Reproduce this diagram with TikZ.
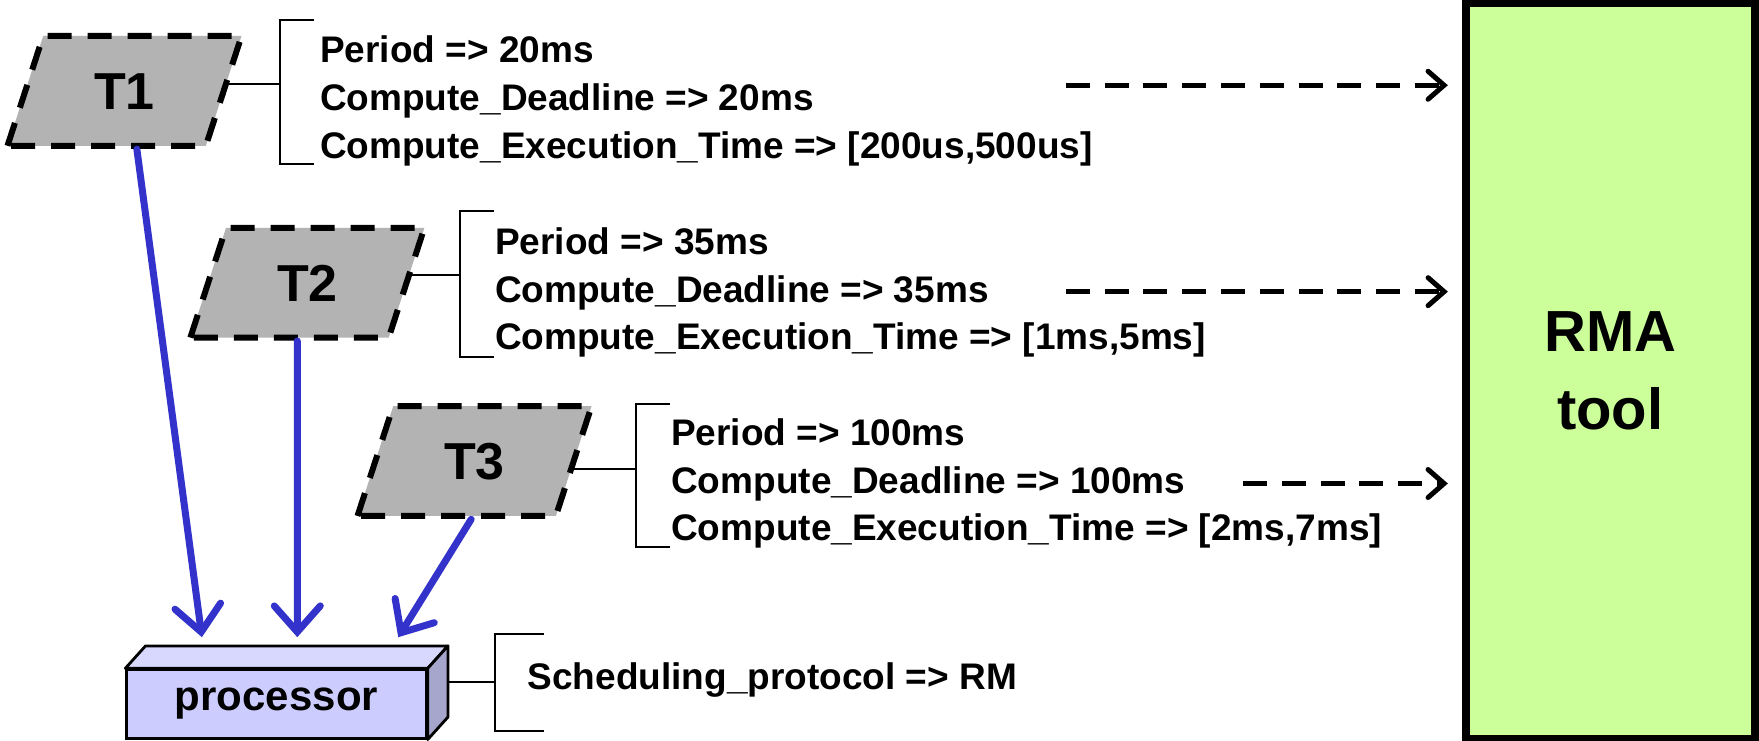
\documentclass[tikz,border=0pt]{standalone}
\usepackage{fontspec}
\setmainfont{Liberation Sans}
\usetikzlibrary{arrows.meta,positioning,shapes.geometric}
\definecolor{taskgray}{HTML}{B3B3B3}
\definecolor{linkblue}{HTML}{3333CC}
\definecolor{rmagreen}{HTML}{CCFF99}
\definecolor{procfront}{HTML}{CCCCFF}
\definecolor{proctop}{HTML}{D8D8FF}
\definecolor{procside}{HTML}{A6A6CC}

\begin{document}
\begin{tikzpicture}[x=0.5609pt, y=-0.5609pt,
  task/.style={trapezium, trapezium left angle=72, trapezium right angle=108,
    draw, dash pattern=on 12pt off 8pt, line width=3pt, fill=taskgray,
    text height=18.7pt, text depth=0pt, inner xsep=25.5pt, inner ysep=18.1pt, outer sep=0pt,
    font=\fontsize{26}{28}\selectfont\bfseries},
  attr/.style={anchor=west, align=left, inner sep=0pt, font=\fontsize{18.5}{23.8}\selectfont\bfseries},
  bracket/.style={line width=1pt},
  link/.style={linkblue, line width=3.5pt, line cap=round, -{Straight Barb[length=13pt, width=23pt, line cap=round]}},
  feed/.style={line width=2.5pt, dash pattern=on 12pt off 7.4pt, -{Straight Barb[length=8pt, width=14pt, line cap=round]}, shorten >=7pt}]
\useasboundingbox (0,0) rectangle (1568,660);

% RMA tool
\node[draw, line width=4pt, fill=rmagreen, minimum width=144.5pt, minimum height=368pt, align=center,
  font=\fontsize{29}{39}\selectfont\bfseries] (rma) at (1435.5,331) {RMA\\tool};

% tasks
\node[task] (t1) at (111,81) {T1};
\node[task] (t2) at (274,252) {T2};
\node[task] (t3) at (423,411) {T3};

% processor
\node[draw, line width=1.4pt, fill=procfront, minimum width=149.8pt, minimum height=34.2pt, inner sep=0pt,
  font=\fontsize{21}{23}\selectfont\bfseries] (proc) at (246.5,627.5) {processor};
\filldraw[fill=proctop, line width=1.4pt, line join=round] (proc.north west) -- ++(18,-20) -- ([shift={(18,-20)}]proc.north east) -- (proc.north east) -- cycle;
\filldraw[fill=procside, line width=1.4pt, line join=round] (proc.north east) -- ++(18,-20) -- ([shift={(18,-20)}]proc.south east) -- (proc.south east) -- cycle;

% attributes
\node[attr] (a1) at (285,90) {Period => 20ms\\Compute\_Deadline => 20ms\\Compute\_Execution\_Time => [200us,500us]};
\node[attr] (a2) at (441,261) {Period => 35ms\\Compute\_Deadline => 35ms\\Compute\_Execution\_Time => [1ms,5ms]};
\node[attr] (a3) at (598,431) {Period => 100ms\\Compute\_Deadline => 100ms\\Compute\_Execution\_Time => [2ms,7ms]};
\node[attr] (a4) at (470,606) {Scheduling\_protocol => RM};

% brackets
\coordinate (b1) at (250,75);
\coordinate (b2) at (410,245);
\coordinate (b3) at (567,418);
\coordinate (b4) at (441,608);
\draw[bracket] (280,18) -| (250,146) -- (280,146);
\draw[bracket] (440,188) -| (410,318) -- (440,318);
\draw[bracket] (597,360) -| (567,488) -- (597,488);
\draw[bracket] (485,565) -| (441,652) -- (485,652);
\draw[bracket] (t1.east |- b1) -- (b1);
\draw[bracket] (t2.east |- b2) -- (b2);
\draw[bracket] (t3.east |- b3) -- (b3);
\draw[bracket] ([shift={(18,0)}]proc.east |- b4) -- (b4);

% task to processor
\coordinate (p1) at (180,568);
\coordinate (p2) at (265,568);
\coordinate (p3) at (355,568);
\draw[link] ([shift={(11,3)}]t1.south) -- (p1);
\draw[link] ([shift={(-9,3)}]t2.south) -- (p2);
\draw[link] ([shift={(-3,3)}]t3.south) -- (p3);

% to RMA tool
\coordinate (f1) at (950,76);
\coordinate (f2) at (950,260);
\coordinate (f3) at (1108,431);
\draw[feed] (f1) -- (f1 -| rma.west);
\draw[feed] (f2) -- (f2 -| rma.west);
\draw[feed] (f3) -- (f3 -| rma.west);

\end{tikzpicture}
\end{document}
